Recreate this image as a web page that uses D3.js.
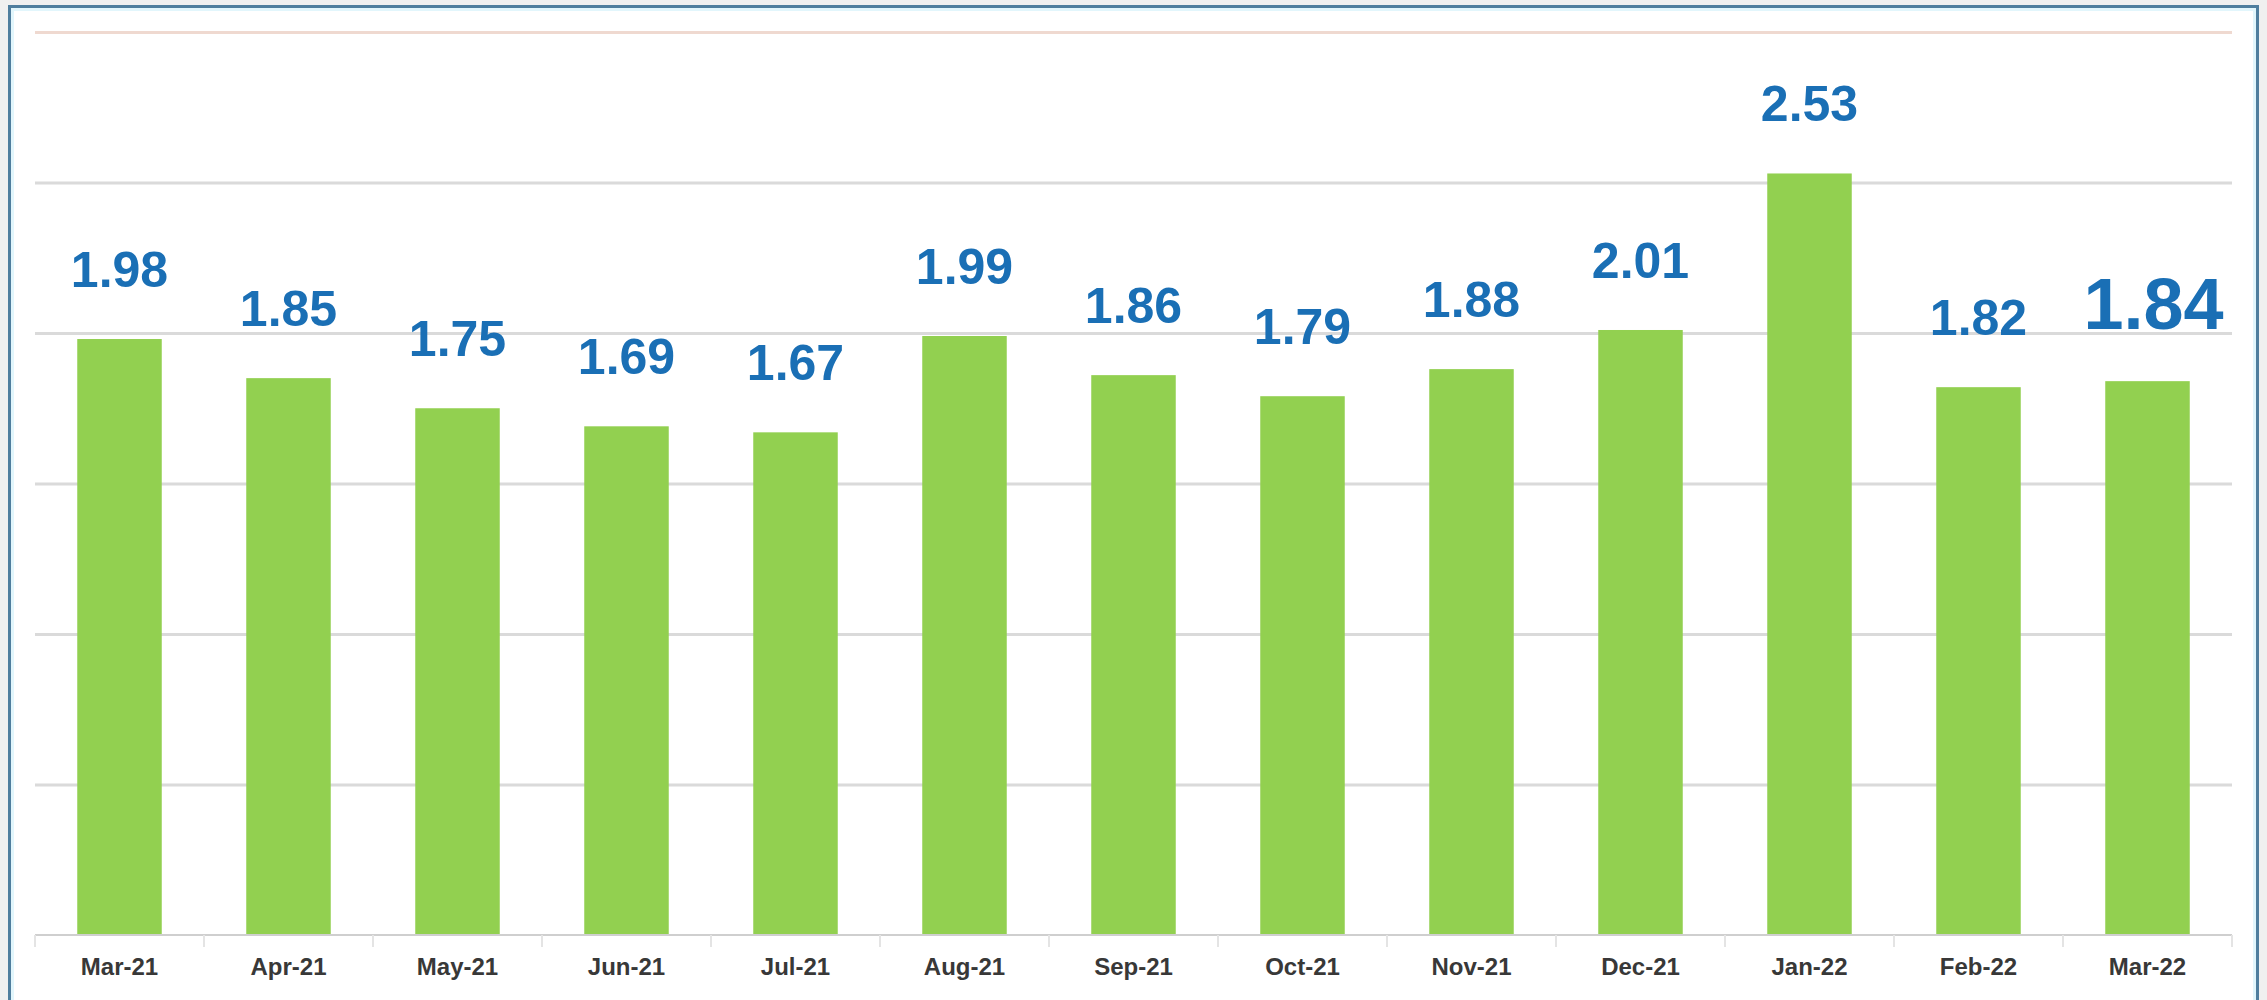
<!DOCTYPE html>
<html>
<head>
<meta charset="utf-8">
<script src="https://cdn.jsdelivr.net/npm/d3@7"></script>
<style>
  html, body { margin: 0; padding: 0; background: #f0f0f0; }
  svg { display: block; }
</style>
</head>
<body>
<div id="chart"></div>
<script>
// Data
const months = ["Mar-21", "Apr-21", "May-21", "Jun-21", "Jul-21", "Aug-21", "Sep-21",
  "Oct-21", "Nov-21", "Dec-21", "Jan-22", "Feb-22", "Mar-22"];
const values = [1.98, 1.85, 1.75, 1.69, 1.67, 1.99, 1.86, 1.79, 1.88, 2.01, 2.53, 1.82, 1.84];
const yTicks = [0.5, 1, 1.5, 2, 2.5, 3];

const W = 2267, H = 1000;
const plot = { left: 35, right: 2232, top: 32, bottom: 935 };

const svg = d3.select("#chart")
  .append("svg")
  .attr("width", W)
  .attr("height", H);

// Frame
svg.append("rect")
  .attr("x", 9.5).attr("y", 6.5)
  .attr("width", 2248).attr("height", H + 10)
  .attr("fill", "#ffffff")
  .attr("stroke", "#4f7e9e")
  .attr("stroke-width", 3);

svg.append("rect")
  .attr("x", 12.5).attr("y", 9.5)
  .attr("width", 2242).attr("height", H + 10)
  .attr("fill", "none")
  .attr("stroke", "#e2f6fc")
  .attr("stroke-width", 3);

// Scales
const x = d3.scaleBand()
  .domain(months)
  .range([plot.left, plot.right])
  .paddingInner(0.5)
  .paddingOuter(0.25);

const y = d3.scaleLinear()
  .domain([0, 3])
  .range([plot.bottom, plot.top]);

// Gridlines
const grid = svg.append("g")
  .attr("transform", `translate(${plot.left},0)`)
  .call(d3.axisLeft(y)
    .tickValues(yTicks)
    .tickSize(-(plot.right - plot.left))
    .tickFormat(""));

grid.select(".domain").remove();
grid.selectAll(".tick line")
  .attr("stroke", d => d === 3 ? "#efd9d0" : "#dadada")
  .attr("stroke-width", 3);

// Bars
svg.append("g")
  .selectAll("rect")
  .data(values)
  .join("rect")
  .attr("x", (d, i) => x(months[i]))
  .attr("y", d => y(d))
  .attr("width", x.bandwidth())
  .attr("height", d => y(0) - y(d))
  .attr("fill", "#92d050");

// X axis line and boundary ticks
svg.append("line")
  .attr("x1", plot.left).attr("x2", plot.right)
  .attr("y1", y(0)).attr("y2", y(0))
  .attr("stroke", "#cfcfcf")
  .attr("stroke-width", 2);

const bounds = months.map(m => x(m) + x.bandwidth() / 2 - x.step() / 2);
bounds.push(plot.right);

svg.append("g")
  .selectAll("line")
  .data(bounds)
  .join("line")
  .attr("x1", d => d).attr("x2", d => d)
  .attr("y1", y(0)).attr("y2", y(0) + 12)
  .attr("stroke", "#e4e4e4")
  .attr("stroke-width", 2);

// Category labels
svg.append("g")
  .selectAll("text")
  .data(months)
  .join("text")
  .attr("x", d => x(d) + x.bandwidth() / 2)
  .attr("y", 975)
  .attr("text-anchor", "middle")
  .attr("font-family", "Liberation Sans, Arial, sans-serif")
  .attr("font-weight", "bold")
  .attr("font-size", "24px")
  .attr("fill", "#383838")
  .text(d => d);

// Value labels (last one emphasised)
const last = values.length - 1;
svg.append("g")
  .selectAll("text")
  .data(values)
  .join("text")
  .attr("x", (d, i) => x(months[i]) + x.bandwidth() / 2 + (i === last ? 6 : 0))
  .attr("y", d => y(d) - 52)
  .attr("text-anchor", "middle")
  .attr("font-family", "Liberation Sans, Arial, sans-serif")
  .attr("font-weight", "bold")
  .attr("font-size", (d, i) => i === last ? "72px" : "50px")
  .attr("fill", "#1a6fb5")
  .text(d => d.toFixed(2));
</script>
</body>
</html>
